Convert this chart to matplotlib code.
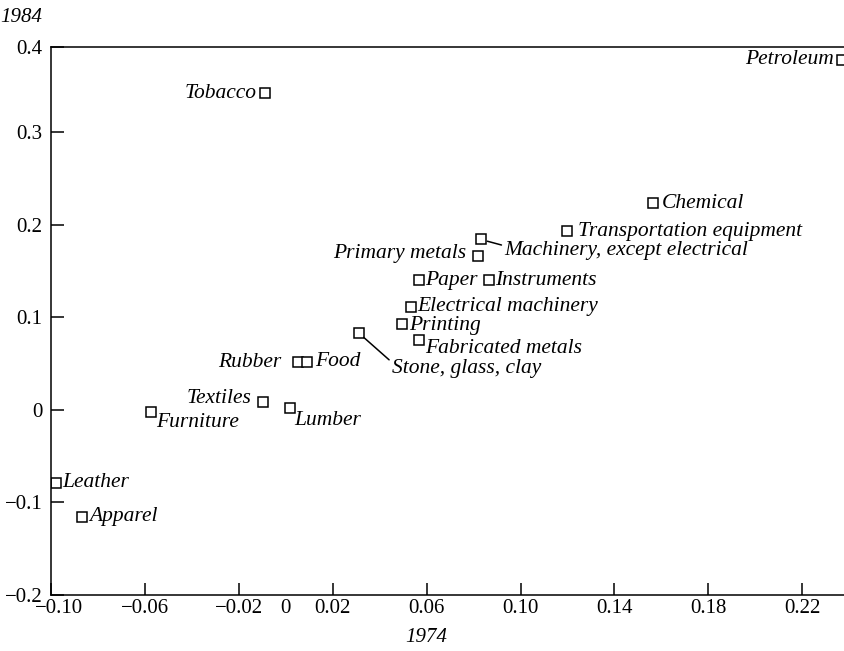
import matplotlib
matplotlib.use("Agg")
import matplotlib.pyplot as plt
import matplotlib.transforms as mtransforms

# industry changes, 1974 (x) vs 1984 (y)
industries = ["Petroleum", "Tobacco", "Chemical", "Transportation equipment",
              "Machinery, except electrical", "Primary metals", "Paper",
              "Instruments", "Electrical machinery", "Printing",
              "Fabricated metals", "Stone, glass, clay", "Rubber", "Food",
              "Textiles", "Furniture", "Lumber", "Leather", "Apparel"]
x1974 = [0.237, -0.0089, 0.1566, 0.1196, 0.083, 0.0817, 0.0566, 0.0864,
         0.0532, 0.0494, 0.0566, 0.031, 0.0051, 0.0089, -0.0098, -0.0574,
         0.0017, -0.098, -0.0868]
y1984 = [0.378, 0.342, 0.223, 0.193, 0.184, 0.166, 0.140, 0.140, 0.1105,
         0.093, 0.075, 0.083, 0.051, 0.052, 0.008, -0.003, 0.002, -0.079,
         -0.116]

xticks = [-0.10, -0.06, -0.02, 0, 0.02, 0.06, 0.10, 0.14, 0.18, 0.22]
xticklabels = ["\u22120.10", "\u22120.06", "\u22120.02", "0", "0.02", "0.06",
               "0.10", "0.14", "0.18", "0.22"]
yticks = [-0.2, -0.1, 0, 0.1, 0.2, 0.3, 0.392]
yticklabels = ["\u22120.2", "\u22120.1", "0", "0.1", "0.2", "0.3", "0.4"]

# label offsets in points: (dx, dy, ha, leader line anchor on text)
label_pos = {
    "Petroleum": (-6, 0, "right", None),
    "Tobacco": (-6, 0, "right", None),
    "Chemical": (6, 0, "left", None),
    "Transportation equipment": (8, 0, "left", None),
    "Machinery, except electrical": (17, -8, "left", (0, 0.75)),
    "Primary metals": (-8, 2, "right", None),
    "Paper": (5, 0, "left", None),
    "Instruments": (5, 0, "left", None),
    "Electrical machinery": (5, 0.5, "left", None),
    "Printing": (5, -1.5, "left", None),
    "Fabricated metals": (5, -6, "left", None),
    "Stone, glass, clay": (24, -26, "left", (0, 0.85)),
    "Rubber": (-12, 0, "right", None),
    "Food": (6, 0, "left", None),
    "Textiles": (-8, 3, "right", None),
    "Furniture": (4, -7, "left", None),
    "Lumber": (3, -9, "left", None),
    "Leather": (5, 0, "left", None),
    "Apparel": (5, 0, "left", None),
}

plt.rcParams["font.family"] = ["Liberation Serif", "DejaVu Serif"]

fig = plt.figure(figsize=(8.45, 6.51), dpi=100)
ax = fig.add_axes([51 / 845, 1 - 594.6 / 651, 1 - 51 / 845, (594.6 - 47) / 651])

ax.plot(x1974, y1984, linestyle="none", marker="s", markersize=6.5,
        markerfacecolor="white", markeredgecolor="black", markeredgewidth=1.1)

for name, x, y in zip(industries, x1974, y1984):
    dx, dy, ha, anchor = label_pos[name]
    arrow = None
    if anchor is not None:
        # A end sits on the text, B end on the marker
        arrow = dict(arrowstyle="-", color="black", lw=1.1,
                     shrinkA=0, shrinkB=5, relpos=anchor)
    ax.annotate(name, (x, y), xytext=(dx, dy), textcoords="offset points",
                ha=ha, va="center", fontsize=15.5, style="italic",
                arrowprops=arrow)

ax.set_xlim(-0.10, 0.2382)
ax.set_ylim(-0.2, 0.392)
ax.set_xticks(xticks)
ax.set_xticklabels(xticklabels)
ax.set_yticks(yticks)
ax.set_yticklabels(yticklabels)
ax.tick_params(direction="in", length=9, width=1.1, labelsize=15, pad=3)
ax.tick_params(axis="y", pad=6)
# the zero on the x axis has no tick mark
ax.xaxis.get_major_ticks()[3].tick1line.set_visible(False)
# nudge the first x label right so it clears the -0.2 label
first = ax.get_xticklabels()[0]
first.set_transform(first.get_transform() +
                    mtransforms.ScaledTranslation(6 / 72, 0, fig.dpi_scale_trans))

ax.spines["right"].set_visible(False)
for s in ["left", "bottom", "top"]:
    ax.spines[s].set_linewidth(1.1)

ax.text(0.06, -0.236, "1974", ha="center", va="top", fontsize=15,
        style="italic")
fig.text(0.0, 1 - 18 / 651, "1984", ha="left", va="center", fontsize=15,
         style="italic")

fig.savefig("out.png", dpi=100)
